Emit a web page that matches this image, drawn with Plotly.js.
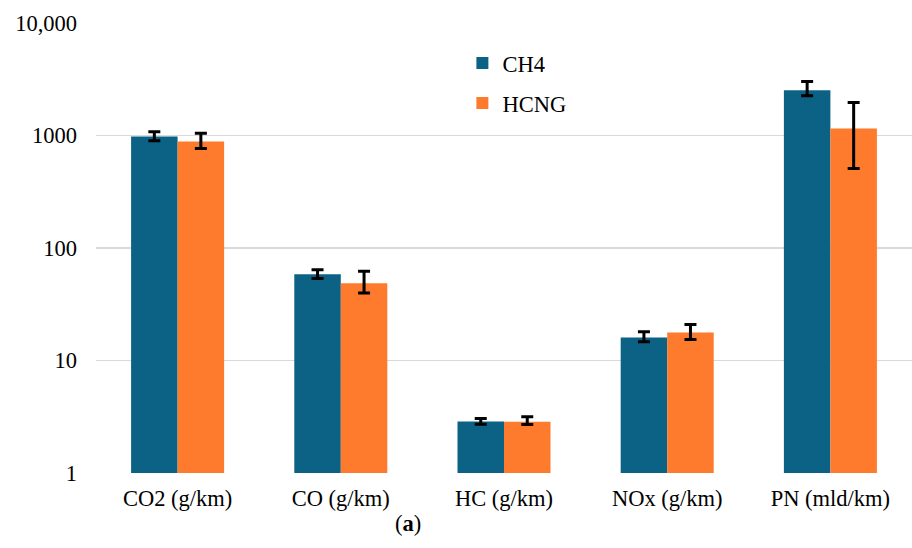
<!DOCTYPE html>
<html>
<head>
<meta charset="utf-8">
<script src="https://cdn.plot.ly/plotly-3.0.1.min.js"></script>
<style>html,body{margin:0;padding:0;background:#fff;}#chart{width:912px;height:548px;}</style>
</head>
<body>
<div id="chart"></div>
<script>
// Emission categories and mean values per fuel
const categories = ['CO2 (g/km)', 'CO (g/km)', 'HC (g/km)', 'NOx (g/km)', 'PN (mld/km)'];
const ch4Values = [980, 58.5, 2.87, 16.0, 2520];
const ch4ErrPlus = [100, 5.5, 0.18, 2.0, 500];
const ch4ErrMinus = [80, 5.0, 0.16, 1.3, 260];
const hcngValues = [885, 48.5, 2.85, 17.7, 1155];
const hcngErrPlus = [160, 13.5, 0.32, 3.2, 810];
const hcngErrMinus = [120, 8.7, 0.15, 2.3, 645];
const yTickVals = [1, 10, 100, 1000, 10000];
const yTickText = ['1', '10', '100', '1000', '10,000'];

const font = '"Liberation Serif", "Times New Roman", serif';
const fontSize = 22.5;

function errorBars(plus, minus) {
  return {
    type: 'data', symmetric: false, array: plus, arrayminus: minus,
    color: '#000', thickness: 3, width: 6
  };
}

const traces = [
  {
    type: 'bar', name: 'CH4', x: categories, y: ch4Values,
    marker: {color: '#0c6285'}, legend: 'legend',
    error_y: errorBars(ch4ErrPlus, ch4ErrMinus)
  },
  {
    type: 'bar', name: 'HCNG', x: categories, y: hcngValues,
    marker: {color: '#fe7a2c'}, legend: 'legend2',
    error_y: errorBars(hcngErrPlus, hcngErrMinus)
  }
];

// Each series gets its own legend box so the two entries sit well apart
function legendBox(y) {
  return {
    x: 0.449, y: y, xanchor: 'left', yanchor: 'top',
    font: {family: font, size: fontSize, color: '#000'},
    itemwidth: 30, bgcolor: 'rgba(0,0,0,0)'
  };
}

const layout = {
  width: 912, height: 548,
  margin: {l: 96, r: 0, t: 23, b: 75},
  paper_bgcolor: '#fff', plot_bgcolor: '#fff',
  font: {family: font, size: fontSize, color: '#000'},
  barmode: 'group', bargap: 0.43, bargroupgap: 0,
  showlegend: true,
  legend: legendBox(0.958),
  legend2: legendBox(0.869),
  xaxis: {
    type: 'category', showgrid: false, zeroline: false,
    showline: false, ticks: '', ticklabelstandoff: 9,
    tickfont: {family: font, size: fontSize}
  },
  yaxis: {
    type: 'log', range: [0, 4], tickvals: yTickVals, ticktext: yTickText,
    showgrid: true, gridcolor: '#d9d9d9', gridwidth: 1.5,
    zeroline: false, showline: false, ticks: '', ticklabelstandoff: 18,
    tickfont: {family: font, size: fontSize}
  },
  annotations: [{
    text: '(<b>a</b>)', xref: 'paper', yref: 'paper', x: 0.382, y: -0.113,
    xanchor: 'center', yanchor: 'middle', showarrow: false,
    font: {family: font, size: fontSize, color: '#000'}
  }]
};

Plotly.newPlot('chart', traces, layout, {displayModeBar: false, staticPlot: true});
</script>
</body>
</html>
